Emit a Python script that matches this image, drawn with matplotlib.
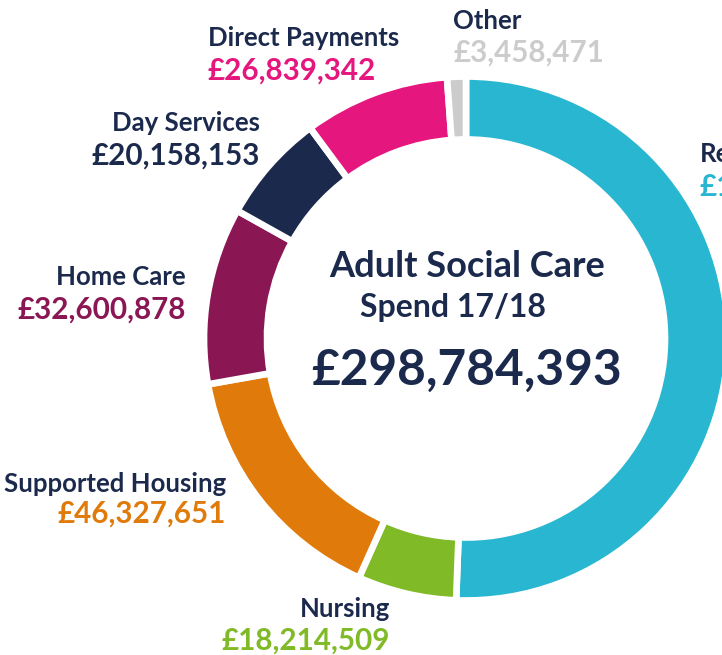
import matplotlib
matplotlib.use("Agg")
import matplotlib.pyplot as plt

# ---- data ----
categories = ["Residential", "Nursing", "Supported Housing", "Home Care",
              "Day Services", "Direct Payments", "Other"]
values = [151185389, 18214509, 46327651, 32600878, 20158153, 26839342, 3458471]
total_label = "£298,784,393"
title_lines = ["Adult Social Care", "Spend 17/18"]

colors = ["#29b6d0", "#80ba27", "#e07b0b", "#8b1654", "#1b2a4c", "#e5177e", "#cccccc"]
navy = "#1b2a4c"

W, H = 722, 655
fig = plt.figure(figsize=(W / 100, H / 100), dpi=100)
ax = fig.add_axes([0, 0, 1, 1])

cx, cy, R = 466, H - 338.5, 262
ax.pie(values, colors=colors, startangle=90, counterclock=False,
       radius=R, center=(cx, cy),
       wedgeprops=dict(width=63, edgecolor="white", linewidth=4.8))
ax.set_xlim(0, W)
ax.set_ylim(0, H)
ax.set_aspect("equal")
ax.axis("off")

FONT = "Lato"

# label placement: (x, name baseline y, value baseline y, ha)
label_pos = {
    "Residential":       (700, 162, 196, "left"),
    "Nursing":           (390, 617, 650, "right"),
    "Supported Housing": (226, 492, 523, "right"),
    "Home Care":         (186, 285, 319, "right"),
    "Day Services":      (260, 131, 165, "right"),
    "Direct Payments":   (208, 46, 80, "left"),
    "Other":             (453, 29, 62, "left"),
}

for cat, val, col in zip(categories, values, colors):
    x, yn, yv, ha = label_pos[cat]
    ax.text(x, H - yn, cat, ha=ha, va="baseline", fontsize=18.5,
            fontweight="bold", color=navy, family=FONT)
    ax.text(x, H - yv, f"£{val:,}", ha=ha, va="baseline", fontsize=21.3,
            fontweight="bold", color=col, family=FONT)

ax.text(467, H - 277, title_lines[0], ha="center", va="baseline",
        fontsize=26, fontweight="bold", color=navy, family=FONT)
ax.text(453, H - 317, title_lines[1], ha="center", va="baseline",
        fontsize=23, fontweight="bold", color=navy, family=FONT)
ax.text(466, H - 385, total_label, ha="center", va="baseline",
        fontsize=35.7, fontweight="bold", color=navy, family=FONT)

fig.savefig("out.png", dpi=100)
